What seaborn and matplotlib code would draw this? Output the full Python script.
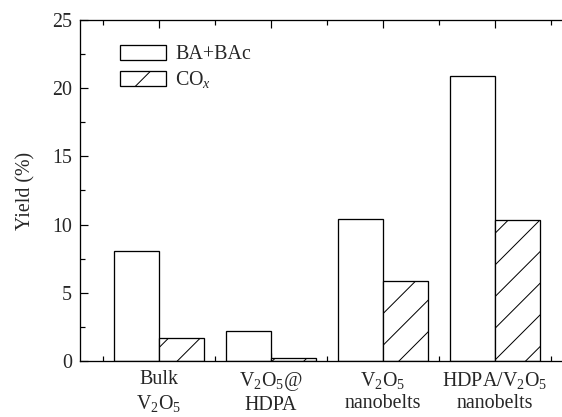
import matplotlib
matplotlib.use("Agg")
import matplotlib.pyplot as plt
import seaborn as sns
import pandas as pd
from matplotlib.patches import Patch
from matplotlib.ticker import MultipleLocator, FixedLocator

categories = ["Bulk\nV$_2$O$_5$", "V$_2$O$_5$@\nHDPA", "V$_2$O$_5$\nnanobelts", "HDPA/V$_2$O$_5$\nnanobelts"]
series_names = ["BA+BAc", "CO$_x$"]
ba_bac = [8.1, 2.2, 10.4, 20.9]
cox = [1.7, 0.25, 5.9, 10.35]
y_ticks = [0, 5, 10, 15, 20, 25]

DPI = 190
px = 72.0 / DPI  # points per pixel

sns.set_theme(style="ticks")
plt.rcParams["font.family"] = ["Liberation Serif", "DejaVu Serif"]
plt.rcParams["mathtext.fontset"] = "custom"
plt.rcParams["mathtext.rm"] = "Liberation Serif"
plt.rcParams["mathtext.it"] = "Liberation Serif:italic"
plt.rcParams["hatch.linewidth"] = 1.0 * px
plt.rcParams["hatch.color"] = "black"

df = pd.DataFrame({
    "cat": categories * 2,
    "series": [series_names[0]] * 4 + [series_names[1]] * 4,
    "value": ba_bac + cox,
})

fig = plt.figure(figsize=(562 / DPI, 417 / DPI), dpi=DPI)
ax = fig.add_axes([80 / 562, 56 / 417, 1 - 80 / 562 + 0.01, (361 - 20) / 417])

sns.barplot(data=df, x="cat", y="value", hue="series", order=categories,
            hue_order=series_names, palette=["white", "white"], width=0.8,
            edgecolor="black", linewidth=1.3 * px, ax=ax, legend=False,
            errorbar=None, saturation=1)

for bar in ax.containers[1]:
    bar.set_hatch("//")

fs = 20 * px
ax.set_xlim(-0.705, 3.65)
ax.set_ylim(0, 25)
ax.set_yticks(y_ticks)
ax.yaxis.set_minor_locator(MultipleLocator(2.5))
ax.xaxis.set_minor_locator(FixedLocator([-0.5, 0.5, 1.5, 2.5, 3.5]))
ax.set_xlabel("")
ax.set_ylabel("Yield (%)", fontsize=fs, labelpad=17 * px)
ax.tick_params(axis="both", which="major", direction="in", length=8 * px,
               width=1.2 * px, labelsize=fs, top=True, color="black")
ax.tick_params(axis="both", which="minor", direction="in", length=5 * px,
               width=1.2 * px, top=True, color="black")
ax.tick_params(axis="y", pad=8 * px)
ax.tick_params(axis="x", pad=9 * px)
for lab in ax.get_xticklabels():
    lab.set_linespacing(1.25)

for s in ax.spines.values():
    s.set_linewidth(1.3 * px)
    s.set_color("black")
ax.spines["right"].set_visible(False)

handles = [Patch(facecolor="white", edgecolor="black", linewidth=1.3 * px, label=series_names[0]),
           Patch(facecolor="white", edgecolor="black", linewidth=1.3 * px, hatch="//", label=series_names[1])]
ax.legend(handles=handles, loc="upper left", bbox_to_anchor=(0.066, 0.95), frameon=False,
          fontsize=fs, handlelength=2.3, handleheight=0.75, handletextpad=0.45,
          labelspacing=0.25, borderaxespad=0)

fig.savefig("out.png", dpi=DPI)
